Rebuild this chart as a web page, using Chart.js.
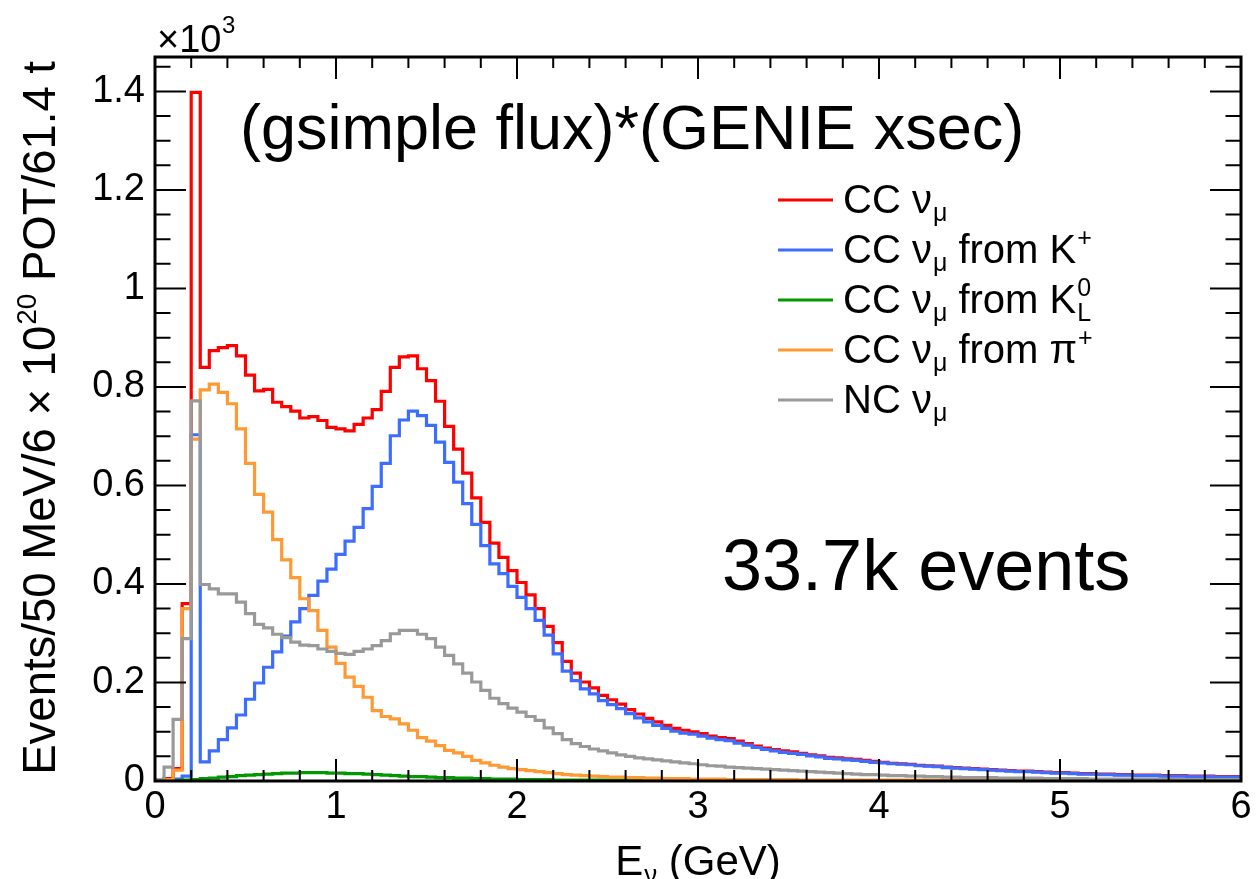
<!DOCTYPE html>
<html>
<head>
<meta charset="utf-8">
<script src="https://cdn.jsdelivr.net/npm/chart.js@4.4.1/dist/chart.umd.min.js"></script>
<style>
  html, body { margin: 0; padding: 0; background: #fff; }
  #wrap { width: 1256px; height: 879px; }
</style>
</head>
<body>
<div id="wrap"><canvas id="spectrum"></canvas></div>
<script>
// 120 bins of 50 MeV from 0 to 6 GeV, values in units of 10^3 events
const BIN_WIDTH = 0.05;

const ccNumu = [
  0.002, 0.005, 0.025, 0.360, 1.398, 0.840, 0.874, 0.880, 0.884, 0.863,
  0.824, 0.792, 0.795, 0.769, 0.760, 0.751, 0.737, 0.740, 0.732, 0.718,
  0.715, 0.711, 0.724, 0.737, 0.754, 0.791, 0.840, 0.861, 0.863, 0.837,
  0.813, 0.771, 0.720, 0.674, 0.625, 0.575, 0.525, 0.483, 0.454, 0.427,
  0.403, 0.378, 0.350, 0.314, 0.281, 0.243, 0.219, 0.201, 0.189, 0.174,
  0.165, 0.156, 0.145, 0.136, 0.127, 0.120, 0.113, 0.107, 0.103, 0.100,
  0.096, 0.091, 0.088, 0.086, 0.081, 0.076, 0.071, 0.067, 0.064, 0.061,
  0.059, 0.056, 0.053, 0.051, 0.048, 0.047, 0.045, 0.044, 0.042, 0.040,
  0.038, 0.036, 0.035, 0.034, 0.032, 0.031, 0.030, 0.028, 0.027, 0.026,
  0.025, 0.024, 0.023, 0.022, 0.021, 0.020, 0.020, 0.019, 0.018, 0.017,
  0.017, 0.016, 0.015, 0.015, 0.014, 0.014, 0.013, 0.013, 0.012, 0.012,
  0.012, 0.011, 0.011, 0.011, 0.010, 0.010, 0.010, 0.009, 0.009, 0.009
];

const ccFromK = [
  0.000, 0.001, 0.004, 0.010, 0.703, 0.039, 0.061, 0.084, 0.108, 0.134,
  0.166, 0.199, 0.231, 0.262, 0.294, 0.323, 0.350, 0.377, 0.406, 0.430,
  0.460, 0.487, 0.515, 0.553, 0.598, 0.645, 0.701, 0.733, 0.751, 0.742,
  0.722, 0.688, 0.647, 0.607, 0.563, 0.521, 0.478, 0.441, 0.421, 0.395,
  0.373, 0.350, 0.326, 0.296, 0.258, 0.223, 0.204, 0.187, 0.177, 0.163,
  0.155, 0.147, 0.137, 0.128, 0.120, 0.113, 0.107, 0.101, 0.097, 0.095,
  0.091, 0.087, 0.084, 0.082, 0.077, 0.073, 0.068, 0.064, 0.061, 0.058,
  0.056, 0.054, 0.051, 0.049, 0.046, 0.045, 0.043, 0.042, 0.040, 0.038,
  0.037, 0.035, 0.034, 0.033, 0.031, 0.030, 0.029, 0.027, 0.026, 0.025,
  0.024, 0.023, 0.022, 0.021, 0.020, 0.019, 0.019, 0.018, 0.017, 0.016,
  0.016, 0.015, 0.014, 0.014, 0.013, 0.013, 0.012, 0.012, 0.011, 0.011,
  0.011, 0.010, 0.010, 0.010, 0.009, 0.009, 0.009, 0.008, 0.008, 0.008
];

const ccFromKL = [
  0.000, 0.000, 0.001, 0.002, 0.003, 0.005, 0.006, 0.008, 0.009, 0.011,
  0.012, 0.013, 0.014, 0.015, 0.016, 0.016, 0.017, 0.017, 0.017, 0.016,
  0.016, 0.015, 0.015, 0.014, 0.013, 0.012, 0.011, 0.010, 0.009, 0.009,
  0.008, 0.007, 0.007, 0.006, 0.006, 0.005, 0.005, 0.004, 0.004, 0.004,
  0.003, 0.003, 0.003, 0.003, 0.002, 0.002, 0.002, 0.002, 0.002, 0.002,
  0.002, 0.002, 0.002, 0.002, 0.002, 0.001, 0.001, 0.001, 0.001, 0.001,
  0.001, 0.001, 0.001, 0.001, 0.001, 0.001, 0.001, 0.001, 0.001, 0.001,
  0.001, 0.001, 0.001, 0.001, 0.001, 0.001, 0.001, 0.001, 0.001, 0.001,
  0.001, 0.001, 0.001, 0.001, 0.001, 0.001, 0.001, 0.001, 0.001, 0.001,
  0.001, 0.001, 0.001, 0.001, 0.001, 0.001, 0.001, 0.001, 0.001, 0.001,
  0.001, 0.001, 0.001, 0.001, 0.001, 0.001, 0.001, 0.001, 0.001, 0.001,
  0.001, 0.001, 0.001, 0.001, 0.001, 0.001, 0.001, 0.001, 0.001, 0.001
];

const ccFromPi = [
  0.000, 0.003, 0.022, 0.350, 0.694, 0.794, 0.806, 0.789, 0.766, 0.715,
  0.645, 0.582, 0.546, 0.490, 0.449, 0.413, 0.370, 0.346, 0.306, 0.272,
  0.239, 0.211, 0.192, 0.170, 0.143, 0.131, 0.126, 0.116, 0.103, 0.088,
  0.081, 0.072, 0.062, 0.057, 0.050, 0.042, 0.037, 0.032, 0.028, 0.025,
  0.023, 0.021, 0.019, 0.017, 0.015, 0.013, 0.012, 0.011, 0.010, 0.009,
  0.008, 0.008, 0.007, 0.007, 0.006, 0.006, 0.005, 0.005, 0.005, 0.004,
  0.004, 0.004, 0.004, 0.003, 0.003, 0.003, 0.003, 0.003, 0.003, 0.003,
  0.003, 0.002, 0.002, 0.002, 0.002, 0.002, 0.002, 0.002, 0.002, 0.002,
  0.002, 0.002, 0.002, 0.002, 0.002, 0.002, 0.002, 0.002, 0.002, 0.002,
  0.001, 0.001, 0.001, 0.001, 0.001, 0.001, 0.001, 0.001, 0.001, 0.001,
  0.001, 0.001, 0.001, 0.001, 0.001, 0.001, 0.001, 0.001, 0.001, 0.001,
  0.001, 0.001, 0.001, 0.001, 0.001, 0.001, 0.001, 0.001, 0.001, 0.001
];

const ncNumu = [
  0.002, 0.028, 0.125, 0.289, 0.772, 0.399, 0.390, 0.380, 0.380, 0.363,
  0.340, 0.318, 0.311, 0.298, 0.291, 0.282, 0.276, 0.275, 0.268, 0.263,
  0.259, 0.257, 0.263, 0.268, 0.275, 0.285, 0.299, 0.306, 0.306, 0.298,
  0.289, 0.272, 0.255, 0.238, 0.219, 0.201, 0.184, 0.168, 0.157, 0.148,
  0.140, 0.131, 0.123, 0.108, 0.096, 0.084, 0.076, 0.070, 0.065, 0.061,
  0.057, 0.053, 0.050, 0.047, 0.045, 0.043, 0.041, 0.039, 0.037, 0.035,
  0.033, 0.031, 0.030, 0.028, 0.027, 0.026, 0.025, 0.024, 0.023, 0.022,
  0.021, 0.020, 0.019, 0.018, 0.017, 0.016, 0.015, 0.014, 0.013, 0.013,
  0.012, 0.011, 0.011, 0.010, 0.010, 0.009, 0.009, 0.008, 0.008, 0.007,
  0.007, 0.007, 0.007, 0.006, 0.006, 0.006, 0.006, 0.006, 0.005, 0.005,
  0.005, 0.005, 0.005, 0.004, 0.004, 0.004, 0.004, 0.004, 0.004, 0.004,
  0.004, 0.003, 0.003, 0.003, 0.003, 0.003, 0.003, 0.003, 0.003, 0.003
];

const xTickValues = [0, 1, 2, 3, 4, 5, 6];
const xTickLabels = ['0', '1', '2', '3', '4', '5', '6'];
const yTickValues = [0, 0.2, 0.4, 0.6, 0.8, 1.0, 1.2, 1.4];
const yTickLabels = ['0', '0.2', '0.4', '0.6', '0.8', '1', '1.2', '1.4'];

const FONT = "'Liberation Sans', Arial, Helvetica, sans-serif";

// histogram -> step points at bin low edges, plus the closing edge
function toSteps(values) {
    const pts = values.map((v, i) => ({ x: i * BIN_WIDTH, y: v }));
    pts.push({ x: values.length * BIN_WIDTH, y: values[values.length - 1] });
    return pts;
}

function histo(data, color, order) {
    return {
        data: toSteps(data),
        borderColor: color,
        borderWidth: 3.2,
        stepped: true,
        pointRadius: 0,
        fill: false,
        order: order
    };
}

const legendEntries = [
    { color: '#ff0000', parts: [['CC ', 'n'], ['\u03bd', 'n'], ['\u03bc', 'sub']] },
    { color: '#3d6dff', parts: [['CC ', 'n'], ['\u03bd', 'n'], ['\u03bc', 'sub'], [' from K', 'n'], ['+', 'sup']] },
    { color: '#009a00', parts: [['CC ', 'n'], ['\u03bd', 'n'], ['\u03bc', 'sub'], [' from K', 'n'], [['0', 'L'], 'stack']] },
    { color: '#ff9933', parts: [['CC ', 'n'], ['\u03bd', 'n'], ['\u03bc', 'sub'], [' from \u03c0', 'n'], ['+', 'sup']] },
    { color: '#999999', parts: [['NC ', 'n'], ['\u03bd', 'n'], ['\u03bc', 'sub']] }
];

// text with sub/superscripts, returns width (draws when draw=true)
function richText(ctx, parts, x, y, size, draw) {
    const small = Math.round(size * 0.62);
    let cx = x;
    for (const [t, kind] of parts) {
        if (kind === 'n') {
            ctx.font = size + 'px ' + FONT;
            if (draw) ctx.fillText(t, cx, y);
            cx += ctx.measureText(t).width;
        } else if (kind === 'sup' || kind === 'sub') {
            ctx.font = small + 'px ' + FONT;
            const dy = kind === 'sup' ? -size * 0.42 : size * 0.2;
            if (draw) ctx.fillText(t, cx + 1, y + dy);
            cx += ctx.measureText(t).width + 1;
        } else if (kind === 'stack') {
            ctx.font = small + 'px ' + FONT;
            if (draw) {
                ctx.fillText(t[0], cx + 1, y - size * 0.42);
                ctx.fillText(t[1], cx + 1, y + size * 0.2);
            }
            cx += Math.max(ctx.measureText(t[0]).width, ctx.measureText(t[1]).width) + 1;
        }
    }
    return cx - x;
}

const rootStyle = {
    id: 'rootStyle',
    afterDraw(chart) {
        const ctx = chart.ctx;
        const a = chart.chartArea;
        const xs = chart.scales.x, ys = chart.scales.y;
        ctx.save();
        ctx.strokeStyle = '#000';
        ctx.fillStyle = '#000';

        // ticks inside the frame
        ctx.lineWidth = 2;
        ctx.beginPath();
        for (let k = 0; k <= 30; k++) {
            const v = k * 0.05;
            if (v > ys.max) break;
            const py = ys.getPixelForValue(v);
            const len = k % 4 === 0 ? 31 : 15.5;
            ctx.moveTo(a.left, py); ctx.lineTo(a.left + len, py);
            ctx.moveTo(a.right, py); ctx.lineTo(a.right - len, py);
        }
        for (let k = 0; k <= 30; k++) {
            const px = xs.getPixelForValue(k * 0.2);
            const len = k % 5 === 0 ? 22 : 11;
            ctx.moveTo(px, a.bottom); ctx.lineTo(px, a.bottom - len);
            ctx.moveTo(px, a.top); ctx.lineTo(px, a.top + len);
        }
        ctx.stroke();

        // frame
        ctx.lineWidth = 3;
        ctx.strokeRect(a.left, a.top, a.right - a.left, a.bottom - a.top);

        ctx.textAlign = 'left';
        ctx.textBaseline = 'alphabetic';

        // exponent of the y axis
        richText(ctx, [['\u00d710', 'n']], a.left + 2, 52, 38, true);
        ctx.font = '24px ' + FONT;
        ctx.fillText('3', a.left + 2 + 65, 33);

        // axis titles
        const xt = [['E', 'n'], ['\u03bd', 'sub'], [' (GeV)', 'n']];
        const xw = richText(ctx, xt, 0, 0, 42, false);
        richText(ctx, xt, (a.left + a.right) / 2 - xw / 2, 875, 42, true);

        const yt = [['Events/50 MeV/6 \u00d7 10', 'n'], ['20', 'sup'], [' POT/61.4 t', 'n']];
        ctx.save();
        ctx.translate(55, a.top + 4);
        ctx.rotate(-Math.PI / 2);
        const yw = richText(ctx, yt, 0, 0, 45.5, false);
        richText(ctx, yt, -yw, 0, 45.5, true);
        ctx.restore();

        // annotations
        ctx.font = '63px ' + FONT;
        ctx.fillText('(gsimple flux)*(GENIE xsec)', 240, 149);
        ctx.font = '72px ' + FONT;
        ctx.fillText('33.7k events', 722, 590);

        // legend
        legendEntries.forEach((e, i) => {
            const ly = 200 + i * 50;
            ctx.strokeStyle = e.color;
            ctx.lineWidth = 3;
            ctx.beginPath();
            ctx.moveTo(778, ly); ctx.lineTo(833, ly);
            ctx.stroke();
            ctx.fillStyle = '#000';
            richText(ctx, e.parts, 843, ly + 13, 40, true);
        });
        ctx.restore();
    }
};

const chart = new Chart(document.getElementById('spectrum'), {
    type: 'line',
    data: {
        datasets: [
            histo(ccNumu, '#ff0000', 5),
            histo(ccFromK, '#3d6dff', 4),
            histo(ccFromKL, '#009a00', 3),
            histo(ccFromPi, '#ff9933', 2),
            histo(ncNumu, '#999999', 1)
        ]
    },
    options: {
        responsive: true,
        maintainAspectRatio: false,
        animation: false,
        layout: { padding: { top: 57, right: 15, left: 0, bottom: 0 } },
        plugins: { legend: { display: false }, tooltip: { enabled: false } },
        scales: {
            x: {
                type: 'linear',
                min: 0,
                max: 6,
                afterBuildTicks: s => { s.ticks = xTickValues.map(v => ({ value: v })); },
                afterFit: s => { s.height = 98; },
                ticks: {
                    callback: (v, i) => xTickLabels[i],
                    font: { family: FONT, size: 38 },
                    color: '#000',
                    padding: 4,
                    maxRotation: 0,
                    autoSkip: false
                },
                grid: { display: false, drawTicks: false },
                border: { display: false }
            },
            y: {
                type: 'linear',
                min: 0,
                max: 1.47,
                afterBuildTicks: s => { s.ticks = yTickValues.map(v => ({ value: v })); },
                afterFit: s => { s.width = 155; },
                ticks: {
                    callback: (v, i) => yTickLabels[i],
                    font: { family: FONT, size: 38 },
                    color: '#000',
                    padding: 10,
                    autoSkip: false
                },
                grid: { display: false, drawTicks: false },
                border: { display: false }
            }
        }
    },
    plugins: [rootStyle]
});
</script>
</body>
</html>
